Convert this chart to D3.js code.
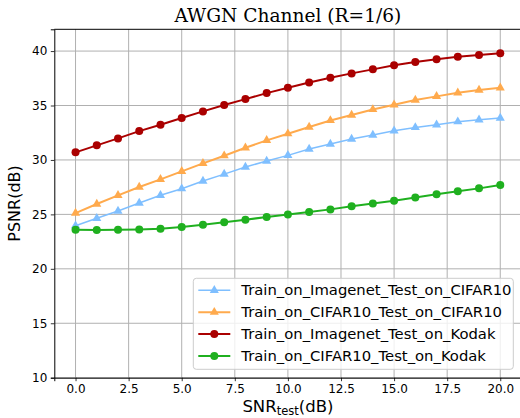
<!DOCTYPE html>
<html>
<head>
<meta charset="utf-8">
<script src="https://cdnjs.cloudflare.com/ajax/libs/d3/7.8.5/d3.min.js"></script>
<style>
  body { margin: 0; background: #fff; }
  text { font-family: "DejaVu Sans", sans-serif; }
</style>
</head>
<body>
<script>
var w = 520;
var h = 418;

// SNR values on x
var snr = [0, 1, 2, 3, 4, 5, 6, 7, 8, 9, 10, 11, 12, 13, 14, 15, 16, 17, 18, 19, 20];

var imagenetCifar = [23.96, 24.64, 25.31, 26.04, 26.75, 27.36, 28.06, 28.70, 29.35, 29.90, 30.42,
  31.00, 31.46, 31.92, 32.29, 32.68, 32.99, 33.23, 33.51, 33.69, 33.85];
var cifarCifar = [25.12, 25.95, 26.75, 27.51, 28.22, 28.95, 29.69, 30.39, 31.12, 31.80, 32.41,
  33.02, 33.63, 34.12, 34.64, 35.07, 35.50, 35.84, 36.17, 36.42, 36.63];
var imagenetKodak = [30.70, 31.34, 31.98, 32.65, 33.23, 33.85, 34.46, 35.04, 35.59, 36.14, 36.63,
  37.12, 37.55, 37.95, 38.32, 38.69, 38.99, 39.24, 39.48, 39.63, 39.79];
var cifarKodak = [23.59, 23.56, 23.59, 23.62, 23.68, 23.84, 24.05, 24.27, 24.51, 24.76, 25.00,
  25.22, 25.46, 25.74, 26.01, 26.25, 26.56, 26.84, 27.12, 27.39, 27.70];

var seriesNames = ["Train_on_Imagenet_Test_on_CIFAR10", "Train_on_CIFAR10_Test_on_CIFAR10",
  "Train_on_Imagenet_Test_on_Kodak", "Train_on_CIFAR10_Test_on_Kodak"];

var xTicks = [0, 2.5, 5, 7.5, 10, 12.5, 15, 17.5, 20];
var yTicks = [10, 15, 20, 25, 30, 35, 40];

var series = [
  { name: seriesNames[0], values: imagenetCifar, color: "#7fbfff", marker: "triangle", width: 1.5 },
  { name: seriesNames[1], values: cifarCifar, color: "#ffaa4d", marker: "triangle", width: 2 },
  { name: seriesNames[2], values: imagenetKodak, color: "#aa0000", marker: "circle", width: 2 },
  { name: seriesNames[3], values: cifarKodak, color: "#1fb01f", marker: "circle", width: 2 }
];

var margin = { left: 54.3, top: 29.3, bottom: 377.7 };

var x = d3.scaleLinear().domain([-1, 21]).range([margin.left, 521.5]);
var y = d3.scaleLinear().domain([10, 42]).range([margin.bottom, margin.top]);

var svg = d3.select("body")
  .append("svg")
  .attr("width", w)
  .attr("height", h);

// grid
svg.append("g").selectAll("line.gx")
  .data(xTicks)
  .enter().append("line")
  .attr("x1", d => x(d)).attr("x2", d => x(d))
  .attr("y1", margin.top).attr("y2", margin.bottom)
  .style("stroke", "#b0b0b0").style("stroke-width", 1);

svg.append("g").selectAll("line.gy")
  .data(yTicks)
  .enter().append("line")
  .attr("x1", margin.left).attr("x2", 521.5)
  .attr("y1", d => y(d)).attr("y2", d => y(d))
  .style("stroke", "#b0b0b0").style("stroke-width", 1);

// axes
var xAxis = svg.append("g")
  .attr("transform", "translate(0," + margin.bottom + ")")
  .call(d3.axisBottom(x).tickValues(xTicks).tickFormat(d3.format(".1f")).tickSizeOuter(0).tickSize(3.5).tickPadding(3.5));
var yAxis = svg.append("g")
  .attr("transform", "translate(" + margin.left + ",0)")
  .call(d3.axisLeft(y).tickValues(yTicks).tickSizeOuter(0).tickSize(3.5).tickPadding(3.5));

[xAxis, yAxis].forEach(function(a) {
  a.selectAll("text").style("font-size", "12px").style("fill", "#000").style("font-family", "DejaVu Sans");
  a.selectAll("line").style("stroke", "#000").style("stroke-width", 0.8);
  a.select(".domain").style("stroke", "#000").style("stroke-width", 1);
});

// top spine
svg.append("line")
  .attr("x1", margin.left).attr("x2", 521.5)
  .attr("y1", margin.top).attr("y2", margin.top)
  .style("stroke", "#000").style("stroke-width", 1);

var line = d3.line()
  .x((d, i) => x(snr[i]))
  .y(d => y(d));

var tri = d3.symbol().type(d3.symbolTriangle).size(36);

series.forEach(function(s) {
  svg.append("path")
    .datum(s.values)
    .attr("d", line)
    .style("fill", "none")
    .style("stroke", s.color)
    .style("stroke-width", s.width);

  var g = svg.append("g");
  if (s.marker == "circle") {
    g.selectAll("circle")
      .data(s.values)
      .enter().append("circle")
      .attr("cx", (d, i) => x(snr[i]))
      .attr("cy", d => y(d))
      .attr("r", 4)
      .style("fill", s.color);
  } else {
    g.selectAll("path")
      .data(s.values)
      .enter().append("path")
      .attr("d", tri)
      .attr("transform", (d, i) => "translate(" + x(snr[i]) + "," + y(d) + ")")
      .style("fill", s.color);
  }
});

// title
svg.append("text")
  .attr("x", (margin.left + 521.5) / 2)
  .attr("y", 22)
  .attr("text-anchor", "middle")
  .style("font-family", "DejaVu Serif")
  .style("font-size", "18.6px")
  .text("AWGN Channel (R=1/6)");

// axis labels
svg.append("text")
  .attr("transform", "translate(20," + ((margin.top + margin.bottom) / 2) + ") rotate(-90)")
  .attr("text-anchor", "middle")
  .style("font-size", "16px")
  .text("PSNR(dB)");

var xl = svg.append("text")
  .attr("x", (margin.left + 521.5) / 2)
  .attr("y", 412)
  .attr("text-anchor", "middle")
  .style("font-size", "16.5px");
xl.append("tspan").text("SNR");
xl.append("tspan").attr("dy", 3).style("font-size", "11.5px").text("test");
xl.append("tspan").attr("dy", -3).text("(dB)");

// legend
var legend = svg.append("g").attr("transform", "translate(193.3,278.3)");
legend.append("rect")
  .attr("width", 320)
  .attr("height", 91)
  .attr("rx", 3)
  .style("fill", "#fff")
  .style("fill-opacity", 0.8)
  .style("stroke", "#cccccc")
  .style("stroke-width", 1);

var items = legend.selectAll("g.item")
  .data(series)
  .enter().append("g")
  .attr("transform", (d, i) => "translate(0," + (12 + i * 21.9) + ")");

items.append("line")
  .attr("x1", 5).attr("x2", 37)
  .style("stroke", d => d.color)
  .style("stroke-width", d => d.width);

items.each(function(d) {
  var g = d3.select(this);
  if (d.marker == "circle") {
    g.append("circle").attr("cx", 21).attr("r", 4).style("fill", d.color);
  } else {
    g.append("path").attr("d", tri).attr("transform", "translate(21,0)").style("fill", d.color);
  }
});

items.append("text")
  .attr("x", 48)
  .attr("dy", "0.35em")
  .style("font-size", "14.8px")
  .text(d => d.name);
</script>
</body>
</html>
